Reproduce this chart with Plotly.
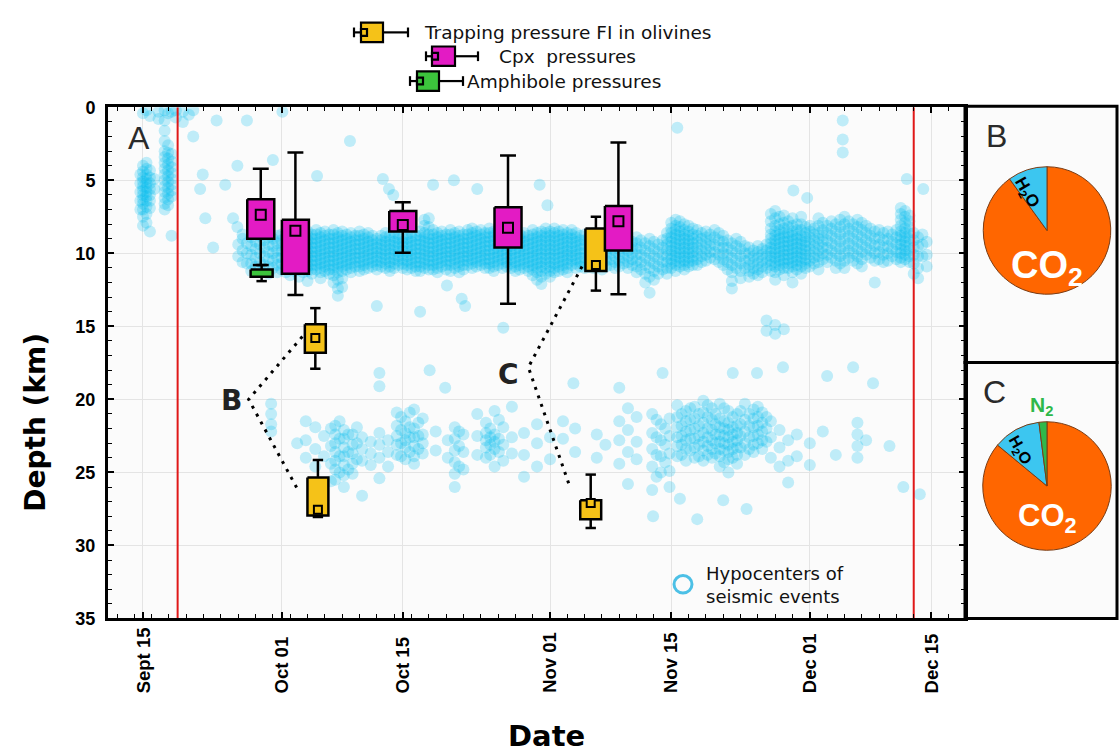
import pandas as pd
import plotly.graph_objects as go

W, H = 1119, 754
SANS = "Liberation Sans, Arial, sans-serif"
NARROW = "Liberation Sans Narrow, Arial Narrow, Liberation Sans, sans-serif"
WIDE = "DejaVu Sans, Verdana, sans-serif"

# ---------------------------------------------------------------- data ----
ORIGIN = "2011-09-15"  # day 0 of the catalogue

# hypocentres, one row per half day: "days after ORIGIN | depths (km)"
quakes_sept = [
    "-0.3|4.6 5.2 5.8 6.4 7.0",
    "0.0|0.4 4.0 4.4 4.8 5.1 5.4 5.7 6.0 6.3 6.6 7.0 7.5 8.1",
    "0.4|0.2 3.8 4.2 4.6 4.9 5.2 5.5 5.8 6.1 6.4 6.8 7.3 7.9",
    "0.8|0.6 4.3 4.8 5.2 5.6 6.0 6.4 6.9 8.5",
    "1.3|4.9 5.6",
    "1.8|0.3 0.8",
    "2.5|0.2 0.9 1.6 2.3 3.0 3.4 3.8 4.2 4.6 5.0 5.4 5.8 6.2 6.6 7.0",
    "2.9|0.4 2.6 3.1 3.5 3.9 4.3 4.7 5.1 5.5 5.9 6.3 6.7",
    "3.3|0.3 3.2 3.7 4.1 4.5 4.9 5.3 5.7 6.1 8.8",
    "3.8|0.2 0.7",
    "4.6|0.3 1.0",
    "5.3|0.5",
    "5.8|0.2 2.0",
    "6.6|5.6",
    "6.9|4.6",
    "7.2|7.6",
    "8.1|9.6",
    "8.5|0.9",
    "9.5|5.3",
    "10.4|7.6",
    "10.9|4.0 8.2",
    "11.5|8.7",
    "12.0|0.9",
    "15.0|3.6",
    "16.1|0.3",
]

quakes_band_oct = [
    "11.0|9.4 10.2",
    "11.5|9.0 9.8 10.6",
    "12.0|9.3 10.0 10.7",
    "12.5|8.9 9.5 10.1 10.7 11.2",
    "13.0|9.2 9.7 10.3 10.9",
    "13.5|8.8 9.4 10.0 10.6 11.1",
    "14.0|9.1 9.6 10.2 10.8",
    "14.5|8.9 9.4 9.9 10.4 10.9 11.4",
    "15.0|9.0 9.5 10.0 10.5 11.0",
    "15.5|8.8 9.3 9.8 10.3 10.8 11.3",
    "16.0|8.7 9.1 9.5 9.9 10.3 10.7 11.1",
    "16.5|8.9 9.3 9.7 10.1 10.5 10.9 11.3",
    "17.0|8.6 9.0 9.4 9.8 10.2 10.6 11.0 11.5",
    "17.5|8.8 9.2 9.6 10.0 10.4 10.8 11.2",
    "18.0|8.4 8.7 9.0 9.3 9.6 9.9 10.2 10.5 10.8 11.1 11.6",
    "18.5|8.6 8.9 9.2 9.5 9.8 10.1 10.4 10.7 11.0 11.3",
    "19.0|8.5 8.8 9.1 9.4 9.7 10.0 10.3 10.6 10.9 11.2 11.9",
    "19.5|8.7 9.0 9.3 9.6 9.9 10.2 10.5 10.8 11.1 11.4",
    "20.0|8.4 8.7 9.0 9.3 9.6 9.9 10.2 10.5 10.8 11.1",
    "20.5|8.6 8.9 9.2 9.5 9.8 10.1 10.4 10.7 11.0 11.3 11.7",
    "21.0|8.5 8.8 9.1 9.4 9.7 10.0 10.3 10.6 10.9 11.2",
    "21.5|8.7 9.0 9.3 9.6 9.9 10.2 10.5 10.8 11.1 11.4",
    "22.0|8.4 8.7 9.0 9.3 9.6 9.9 10.2 10.5 10.8 11.1 11.5 12.0",
    "22.5|8.6 8.9 9.2 9.5 9.8 10.1 10.4 10.7 11.0 11.3 11.8 12.4 12.9",
    "23.0|8.5 8.8 9.1 9.4 9.7 10.0 10.3 10.6 10.9 11.2 11.7 12.3",
    "23.5|8.7 9.0 9.3 9.6 9.9 10.2 10.5 10.8 11.1",
    "24.0|8.6 8.9 9.2 9.5 9.8 10.1 10.4 10.7 11.0 11.3",
    "24.5|8.8 9.1 9.4 9.7 10.0 10.3 10.6 10.9",
    "25.0|8.5 8.8 9.1 9.4 9.7 10.0 10.3 10.6 10.9 11.2",
    "25.5|8.7 9.0 9.3 9.6 9.9 10.2 10.5 10.8 11.1",
    "26.0|8.6 8.9 9.2 9.5 9.8 10.1 10.4 10.7 11.0",
    "26.5|8.8 9.1 9.4 9.7 10.0 10.3 10.6 10.9",
    "27.0|9.0 9.3 9.6 9.9 10.2 10.5 10.8 11.1",
    "27.5|8.8 9.1 9.4 9.7 10.0 10.3 10.6 10.9",
    "28.0|8.6 8.9 9.2 9.5 9.8 10.1 10.4 10.7 11.0",
    "28.5|8.8 9.1 9.4 9.7 10.0 10.3 10.6 10.9 11.2",
    "29.0|8.6 8.9 9.2 9.5 9.8 10.1 10.4 10.7 11.0",
    "29.5|8.7 9.0 9.3 9.6 9.9 10.2 10.5 10.8",
    "30.0|8.9 9.2 9.5 9.8 10.1 10.4 10.7 11.0",
    "30.5|8.7 9.0 9.3 9.6 9.9 10.2 10.5 10.8 11.1",
    "31.0|8.6 8.9 9.2 9.5 9.8 10.1 10.4 10.7 11.0",
    "31.5|8.8 9.1 9.4 9.7 10.0 10.3 10.6 10.9 11.2",
    "32.0|8.5 8.8 9.1 9.4 9.7 10.0 10.3 10.6 10.9 11.2",
    "32.5|7.7 8.1 8.6 8.9 9.2 9.5 9.8 10.1 10.4 10.7 11.0",
    "33.0|7.6 8.2 8.7 9.0 9.3 9.6 9.9 10.2 10.5 10.8 11.1",
    "33.5|8.4 8.7 9.0 9.3 9.6 9.9 10.2 10.5 10.8 11.1",
    "34.0|8.6 8.9 9.2 9.5 9.8 10.1 10.4 10.7 11.0 11.3",
    "34.5|8.5 8.8 9.1 9.4 9.7 10.0 10.3 10.6 10.9",
    "35.0|8.7 9.0 9.3 9.6 9.9 10.2 10.5 10.8 11.1",
    "35.5|8.4 8.7 9.0 9.3 9.6 9.9 10.2 10.5 10.8 11.2",
    "36.0|8.6 8.9 9.2 9.5 9.8 10.1 10.4 10.7 11.0",
    "36.5|8.5 8.8 9.1 9.4 9.7 10.0 10.3 10.6 10.9 11.3",
    "37.0|8.7 9.0 9.3 9.6 9.9 10.2 10.5 10.8 11.1",
    "37.5|8.4 8.7 9.0 9.3 9.6 9.9 10.2 10.5 10.8",
    "38.0|8.3 8.6 8.9 9.2 9.5 9.8 10.1 10.4 10.7 11.0",
    "38.5|8.5 8.8 9.1 9.4 9.7 10.0 10.3 10.6 10.9",
    "39.0|8.4 8.7 9.0 9.3 9.6 9.9 10.2 10.5 10.8",
    "39.5|8.6 8.9 9.2 9.5 9.8 10.1 10.4 10.7 11.0",
    "40.0|8.3 8.6 8.9 9.2 9.5 9.8 10.1 10.4 10.7 11.0",
    "40.5|8.5 8.8 9.1 9.4 9.7 10.0 10.3 10.6 10.9 11.2",
    "41.0|8.4 8.7 9.0 9.3 9.6 9.9 10.2 10.5 10.8",
    "41.5|8.6 8.9 9.2 9.5 9.8 10.1 10.4 10.7 11.0",
    "42.0|8.8 9.1 9.4 9.7 10.0 10.3 10.6 10.9",
    "42.5|8.6 8.9 9.2 9.5 9.8 10.1 10.4 10.7 11.0",
    "43.0|8.5 8.8 9.1 9.4 9.7 10.0 10.3 10.6 10.9 11.2",
    "43.5|8.7 9.0 9.3 9.6 9.9 10.2 10.5 10.8 11.1",
    "44.0|8.6 8.9 9.2 9.5 9.8 10.1 10.4 10.7 11.0",
    "44.5|8.8 9.1 9.4 9.7 10.0 10.3 10.6 10.9 11.2",
    "45.0|8.4 8.7 9.0 9.3 9.6 9.9 10.2 10.5 10.8 11.1 11.5",
    "45.5|8.6 8.9 9.2 9.5 9.8 10.1 10.4 10.7 11.0 11.3 11.8",
    "46.0|8.5 8.8 9.1 9.4 9.7 10.0 10.3 10.6 10.9 11.2 11.6 12.1",
    "46.5|8.3 8.6 8.9 9.2 9.5 9.8 10.1 10.4 10.7 11.0 11.4",
]

quakes_band_nov_dec = [
    "47.0|8.5 8.8 9.1 9.4 9.7 10.0 10.3 10.6 10.9 11.2 11.6",
    "47.5|8.3 8.6 8.9 9.2 9.5 9.8 10.1 10.4 10.7 11.0 11.3",
    "48.0|8.5 8.8 9.1 9.4 9.7 10.0 10.3 10.6 10.9 11.2",
    "48.5|8.4 8.7 9.0 9.3 9.6 9.9 10.2 10.5 10.8 11.1",
    "49.0|8.6 8.9 9.2 9.5 9.8 10.1 10.4 10.7 11.0 11.3",
    "49.5|8.4 8.7 9.0 9.3 9.6 9.9 10.2 10.5 10.8",
    "50.0|8.6 8.9 9.2 9.5 9.8 10.1 10.4 10.7 11.0",
    "50.5|8.8 9.1 9.4 9.7 10.0 10.3 10.6 10.9",
    "51.0|8.7 9.1 9.5 9.9 10.3 10.7 11.0",
    "51.5|8.9 9.3 9.7 10.1 10.5 10.9",
    "52.0|8.6 9.0 9.4 9.8 10.2 10.6 11.0",
    "52.5|8.8 9.2 9.6 10.0 10.4 10.8",
    "53.0|8.7 9.1 9.5 9.9 10.3 10.7 11.1",
    "53.5|8.9 9.3 9.7 10.1 10.5 10.9",
    "54.0|8.8 9.2 9.6 10.0 10.4 10.8",
    "54.5|9.0 9.4 9.8 10.2 10.6 11.0",
    "55.0|8.9 9.3 9.7 10.1 10.5 10.9",
    "55.5|9.1 9.5 9.9 10.3 10.7",
    "56.0|9.0 9.4 9.8 10.2 10.6 11.0",
    "56.5|9.2 9.6 10.0 10.4 10.8",
    "57.0|8.9 9.3 9.7 10.1 10.5 10.9 11.3",
    "57.5|9.1 9.6 10.1 10.6 11.1",
    "58.0|9.3 9.8 10.3 10.8 11.4 12.0",
    "58.5|9.0 9.5 10.0 10.5 11.0 11.6",
    "59.0|9.2 9.7 10.2 10.7 11.2 11.8",
    "59.5|9.4 9.9 10.4 10.9 11.4",
    "60.0|9.1 9.6 10.1 10.6 11.1",
    "60.5|8.6 9.0 9.4 9.8 10.2 10.6 11.0 11.4",
    "61.0|7.9 8.3 8.6 8.9 9.2 9.5 9.8 10.1 10.4 10.7 11.0",
    "61.5|7.7 8.1 8.4 8.7 9.0 9.3 9.6 9.9 10.2 10.5 10.8 11.2",
    "62.0|7.8 8.2 8.5 8.8 9.1 9.4 9.7 10.0 10.3 10.6 10.9",
    "62.5|8.0 8.4 8.7 9.0 9.3 9.6 9.9 10.2 10.5 10.8 11.1",
    "63.0|8.1 8.5 8.8 9.1 9.4 9.7 10.0 10.3 10.6 10.9",
    "63.5|8.3 8.7 9.0 9.3 9.6 9.9 10.2 10.5 10.8",
    "64.0|8.4 8.8 9.2 9.6 10.0 10.4 10.8",
    "64.5|8.6 9.0 9.4 9.8 10.2 10.6",
    "65.0|8.5 8.9 9.3 9.7 10.1 10.5",
    "65.5|8.7 9.1 9.5 9.9 10.3",
    "66.0|8.4 8.9 9.4 9.9 10.4",
    "66.5|8.6 9.1 9.6 10.1 10.6",
    "67.0|8.8 9.2 9.6 10.0 10.4 10.8",
    "67.5|9.1 9.6 10.1 10.6 11.1",
    "68.0|9.3 9.8 10.3 10.8 11.3 11.9 12.4",
    "68.5|9.0 9.5 10.0 10.5 11.0",
    "69.0|9.2 9.7 10.2 10.7 11.2 11.7",
    "69.5|9.5 10.0 10.5 11.0",
    "70.0|9.6 10.0 10.4 10.8 11.2 11.6",
    "70.5|9.8 10.2 10.6 11.0 11.4",
    "71.0|9.5 9.9 10.3 10.7 11.1 11.5",
    "71.5|9.7 10.1 10.5 10.9 11.3",
    "72.0|9.4 9.8 10.2 10.6 11.0",
    "72.5|7.3 7.8 8.3 8.7 9.0 9.3 9.6 9.9 10.2 10.5 10.8 11.2",
    "73.0|7.1 7.6 8.1 8.5 8.8 9.1 9.4 9.7 10.0 10.3 10.6 10.9 11.3 11.8",
    "73.5|7.5 8.0 8.4 8.7 9.0 9.3 9.6 9.9 10.2 10.5 10.8 11.1",
    "74.0|7.4 7.9 8.3 8.6 8.9 9.2 9.5 9.8 10.1 10.4 10.7 11.0 11.5",
    "74.5|7.8 8.2 8.6 8.9 9.2 9.5 9.8 10.1 10.4 10.7 11.0",
    "75.0|7.6 8.1 8.5 8.8 9.1 9.4 9.7 10.0 10.3 10.6 10.9 11.3 12.0",
    "75.5|8.0 8.4 8.7 9.0 9.3 9.6 9.9 10.2 10.5 10.8 11.1",
    "76.0|7.5 8.0 8.4 8.8 9.1 9.4 9.7 10.0 10.3 10.6 10.9 11.4",
    "76.5|8.2 8.6 8.9 9.2 9.5 9.8 10.1 10.4 10.7 11.0",
    "77.0|8.1 8.5 8.9 9.3 9.7 10.1 10.5 10.9",
    "77.5|8.3 8.7 9.1 9.5 9.9 10.3 10.7",
    "78.0|7.6 8.1 8.6 9.0 9.4 9.8 10.2 10.6 11.1",
    "78.5|7.9 8.4 8.8 9.2 9.6 10.0 10.4",
    "79.0|8.1 8.6 9.1 9.6 10.1 10.6",
    "79.5|7.8 8.3 8.8 9.3 9.8 10.3",
    "80.0|8.0 8.5 9.0 9.5 10.0 10.5 11.0",
    "80.5|7.7 8.2 8.7 9.2 9.7 10.2 10.7",
    "81.0|7.5 8.0 8.5 9.0 9.5 10.0 10.5 11.0",
    "81.5|7.8 8.3 8.8 9.3 9.8 10.3",
    "82.0|8.0 8.5 9.0 9.5 10.0 10.5",
    "82.5|7.7 8.2 8.7 9.2 9.7 10.2 10.7",
    "83.0|7.9 8.4 8.9 9.4 9.9 10.4 10.9",
    "83.5|8.1 8.6 9.1 9.6 10.1",
    "84.0|8.3 8.8 9.3 9.8 10.3",
    "84.5|8.5 9.0 9.5 10.0 10.5 12.0",
    "85.0|8.4 8.9 9.4 9.9 10.4",
    "85.5|8.6 9.1 9.6 10.1 10.6",
    "86.0|8.5 9.0 9.5 10.0 10.5",
    "86.5|8.7 9.2 9.7 10.2",
    "87.0|8.4 8.9 9.4 9.9 10.4",
    "87.5|6.9 7.3 7.7 8.1 8.5 8.8 9.1 9.4 9.7 10.0 10.3 10.6",
    "88.0|7.1 7.5 7.9 8.3 8.6 8.9 9.2 9.5 9.8 10.1 10.4",
    "88.5|7.4 7.8 8.2 8.6 9.0 9.4 9.8 10.2 10.6",
    "89.0|8.6 9.1 9.6 10.1 10.7 11.4",
    "89.5|8.9 9.5 10.2 11.0 11.7",
    "90.0|8.7 9.4 10.2",
    "90.5|9.2 10.1 10.9",
]

quakes_deep = [
    "14.8|20.3 21.0 21.7 22.2",
    "17.8|23.0",
    "18.8|21.5 22.8 24.0",
    "19.9|21.9 23.4 24.6",
    "20.9|22.5 23.9",
    "21.7|22.0 23.2 24.4 25.6",
    "22.2|21.8 22.4 23.0 23.6 24.2 24.8 25.5",
    "22.7|21.5 22.7 23.9 25.0",
    "23.2|22.1 22.7 23.3 23.9 24.5 25.2 26.0",
    "23.7|22.4 23.6 24.8",
    "24.2|22.4 23.1 23.7 24.4 25.1",
    "24.7|21.9 23.0 24.1",
    "25.3|22.6 23.4 24.2 26.6",
    "26.3|22.9 23.7 24.5",
    "27.3|22.3 23.1 24.0 25.4",
    "28.3|22.8 23.6 24.6",
    "29.3|20.9 21.8 22.5 23.1 23.8",
    "29.8|21.2 22.1 23.0 23.9",
    "30.3|21.5 22.3 22.8 23.3 24.1",
    "30.8|20.9 21.9 22.6 23.6",
    "31.3|20.7 22.0 22.6 23.2 23.9 24.4",
    "31.8|21.6 22.5 23.4",
    "32.3|21.3 22.4 23.0 23.7",
    "33.8|22.2 23.5",
    "35.2|22.8 24.0",
    "36.0|21.9 22.7 23.5 24.3 25.1 26.0",
    "36.5|22.2 23.2 24.6",
    "37.0|22.4 23.6 24.8",
    "38.6|21.0 22.5 23.8",
    "39.6|21.6 22.3 22.8 23.3 24.0",
    "40.1|22.0 22.6 23.1 23.8",
    "40.6|20.8 22.4 22.9 23.4 24.6",
    "41.1|21.4 22.7 23.6",
    "41.6|21.9 23.1 24.2",
    "42.6|20.5 22.6 23.7",
    "44.0|22.3 23.8 25.3",
    "45.5|21.7 23.0 24.6",
    "47.0|22.6 24.1",
    "48.5|21.5 22.7",
    "49.9|22.0 23.6",
    "52.4|22.4 24.0",
    "53.4|23.1",
    "55.0|19.2 21.5 22.8 24.4",
    "56.0|20.6 22.1 23.6 25.8",
    "57.0|21.2 22.9 24.1",
    "58.8|21.0 22.3 23.4 24.6 26.2",
    "59.3|21.4 22.6 23.8 25.3",
    "59.8|21.7 22.8 23.9 25.0",
    "60.3|22.0 23.1 24.3",
    "60.8|21.3 22.5 23.7 24.9 26.0",
    "61.7|20.4 21.2 21.9 22.6 23.2 23.9",
    "62.2|21.0 21.8 22.5 23.1 23.8",
    "62.7|20.8 21.5 22.2 22.8 23.4 24.2",
    "63.2|20.6 21.4 22.1 22.7 23.5",
    "63.7|20.5 21.3 22.0 22.7 23.3 24.0",
    "64.2|21.0 21.8 22.5 23.1 23.9",
    "64.7|20.1 20.9 21.6 22.3 22.9 23.5 24.2",
    "65.2|20.4 21.2 22.0 22.6 23.2 23.8",
    "65.7|20.6 21.4 22.1 22.8 23.4 24.0",
    "66.1|21.0 21.7 22.4 23.0 23.7",
    "66.6|20.3 21.3 21.9 22.4 22.9 23.4 23.9 24.6",
    "67.1|20.6 21.5 22.0 22.5 23.0 23.5 24.3",
    "67.6|20.8 21.6 22.1 22.6 23.1 23.6 24.1 25.0",
    "68.1|21.2 21.9 22.4 22.9 23.4 24.0",
    "68.6|21.0 21.8 22.3 22.8 23.3 23.8 24.4",
    "69.0|20.8 21.7 22.5 23.3",
    "69.5|20.3 21.4 22.2 23.0 23.8",
    "70.0|21.0 21.8 22.6 23.4",
    "70.5|20.7 21.3 21.9 22.5 23.1 23.6",
    "71.0|20.5 21.2 21.8 22.4 23.0",
    "71.5|20.9 21.6 22.2 22.8 23.4",
    "72.0|21.2 22.0 22.9",
    "72.5|21.5 22.6 24.0",
    "73.5|22.1 23.3 24.6",
    "74.5|22.8 24.2 25.7",
    "75.5|22.4 23.9",
    "77.0|23.0 24.5",
    "78.5|22.2",
    "80.0|23.8",
    "82.5|21.6 22.4 23.2 24.0",
    "83.5|22.8",
    "86.2|23.2",
    "87.8|26.0",
    "89.7|26.5",
]

quakes_scattered = [
    "20.1|4.7", "23.9|2.3", "27.0|13.6", "27.7|4.9", "28.4|5.6", "28.9|6.0",
    "32.0|14.0", "33.5|5.3", "35.1|12.2", "35.9|5.0", "36.8|13.1", "37.2|13.6",
    "38.6|5.6", "41.6|15.1", "45.8|5.3", "46.7|6.7", "58.5|12.7", "61.7|1.4",
    "72.0|14.6 15.3", "73.0|14.9 15.5", "74.0|15.2", "75.1|5.7", "76.7|6.2",
    "80.8|0.9 2.2 3.1", "88.2|4.9", "90.1|5.6",
    "27.3|18.2 19.1", "33.1|18.0", "34.9|19.2", "49.7|18.9", "60.0|18.2",
    "68.1|18.2", "70.9|18.2", "73.9|17.8", "79.0|18.4", "82.0|17.8", "84.3|18.9",
    "58.9|28.0", "64.0|28.2", "62.0|26.8", "69.7|27.5", "67.0|26.9",
]

date_ticks = ["2011-09-15", "2011-10-01", "2011-10-15", "2011-11-01",
              "2011-11-15", "2011-12-01", "2011-12-15"]
date_tick_text = ["Sept 15", "Oct 01", "Oct 15", "Nov 01", "Nov 15", "Dec 01", "Dec 15"]
depth_ticks = [0, 5, 10, 15, 20, 25, 30, 35]

red_line_dates = ["2011-09-19", "2011-12-13"]

# clinopyroxene barometry (days after ORIGIN, depths in km)
cpx_day = [13.6, 17.6, 30.0, 42.15, 54.9]
cpx_whisker_top = [4.2, 3.1, 6.5, 3.3, 2.4]
cpx_q1 = [6.3, 7.7, 7.1, 6.85, 6.75]
cpx_median = [7.35, 8.45, 8.05, 8.25, 7.8]
cpx_q3 = [9.0, 11.4, 8.5, 9.6, 9.8]
cpx_whisker_bottom = [10.8, 12.85, 9.95, 13.45, 12.8]

# fluid inclusion trapping pressures in olivine
fi_day = [19.9, 20.2, 52.3, 51.7]
fi_whisker_top = [13.75, 24.15, 7.5, 25.15]
fi_q1 = [14.85, 25.35, 8.3, 26.9]
fi_median = [15.8, 27.55, 10.8, 27.1]
fi_q3 = [16.8, 27.95, 11.2, 28.2]
fi_whisker_bottom = [17.9, 28.05, 12.55, 28.8]

# amphibole barometry
amph_day = [13.7]
amph_whisker_top = [10.8]
amph_q1 = [11.1]
amph_q3 = [11.6]
amph_whisker_bottom = [11.9]

# dotted links from the B / C labels to the inclusion populations
link_labels = ["B", "C"]
link_label_day = [10.2, 42.2]
link_label_depth = [20.1, 18.3]
link_b_day = [18.4, 12.2, 17.8]
link_b_depth = [15.7, 20.0, 26.1]
link_c_day = [50.7, 44.5, 49.3]
link_c_depth = [10.9, 17.8, 26.0]

# fluid compositions (mol %), listed clockwise from 12 o'clock
pie_b_labels = ["CO2", "H2O"]
pie_b_values = [90, 10]
pie_c_labels = ["CO2", "H2O", "N2"]
pie_c_values = [86, 12, 2]

legend_labels = ["Trapping pressure FI in olivines", "Cpx\u00a0 pressures", "Amphibole pressures"]

# --------------------------------------------------------------- style ----
CPX = "#e31bc4"
FI = "#f5c218"
AMPH = "#3cc43c"
QUAKE = "rgb(0,190,240)"
CO2 = "#ff6600"
H2O = "#3cc6f0"
N2 = "#2fb84a"
RED = "#e01818"

t0 = pd.Timestamp(ORIGIN)


def day(d):
    return t0 + pd.Timedelta(days=d)


def px(x):
    return x / W


def py(y):
    return 1 - y / H


def parse(rows):
    xs, zs = [], []
    for row in rows:
        d, depths = row.split("|")
        for z in depths.split():
            xs.append(day(float(d)))
            zs.append(float(z))
    return xs, zs


fig = go.Figure()

# seismicity
qx, qz = parse(quakes_sept + quakes_band_oct + quakes_band_nov_dec + quakes_deep + quakes_scattered)
fig.add_trace(go.Scatter(x=qx, y=qz, mode="markers",
                         marker=dict(size=12, color=QUAKE, opacity=0.24, line=dict(width=0)),
                         hoverinfo="skip"))

# red reference lines
for dt in red_line_dates:
    fig.add_trace(go.Scatter(x=[dt, dt], y=[0, 35], mode="lines",
                             line=dict(color=RED, width=2), hoverinfo="skip"))

# dotted links
for ldays, ldepth in ((link_b_day, link_b_depth), (link_c_day, link_c_depth)):
    fig.add_trace(go.Scatter(x=[day(d) for d in ldays], y=ldepth, mode="lines",
                             line=dict(color="black", width=3, dash="3px,6px"), hoverinfo="skip"))


def add_boxes(days, top, q1, q3, bottom, color, half, cap, median=None, msize=9):
    wx, wy = [], []
    for d, a, b in zip(days, top, bottom):
        wx += [day(d), day(d), None]
        wy += [a, b, None]
        for z in (a, b):
            wx += [day(d - cap), day(d + cap), None]
            wy += [z, z, None]
    fig.add_trace(go.Scatter(x=wx, y=wy, mode="lines",
                             line=dict(color="black", width=2.5), hoverinfo="skip"))
    bx, by = [], []
    for d, a, b in zip(days, q1, q3):
        bx += [day(d - half), day(d + half), day(d + half), day(d - half), day(d - half), None]
        by += [a, a, b, b, a, None]
    fig.add_trace(go.Scatter(x=bx, y=by, mode="lines", fill="toself", fillcolor=color,
                             line=dict(color="black", width=2.5), hoverinfo="skip"))
    if median is not None:
        fig.add_trace(go.Scatter(x=[day(d) for d in days], y=median, mode="markers",
                                 marker=dict(symbol="square", size=msize, color=color,
                                             line=dict(color="black", width=2)),
                                 hoverinfo="skip"))


add_boxes(amph_day, amph_whisker_top, amph_q1, amph_q3, amph_whisker_bottom, AMPH, 1.27, 0.6)
add_boxes(fi_day, fi_whisker_top, fi_q1, fi_q3, fi_whisker_bottom, FI, 1.21, 0.6, fi_median, 8)
add_boxes(cpx_day, cpx_whisker_top, cpx_q1, cpx_q3, cpx_whisker_bottom, CPX, 1.56, 0.92, cpx_median, 10)

# gas composition pies
colour_of = {"CO2": CO2, "H2O": H2O, "N2": N2}
for labels, values, (y0, y1) in ((pie_b_labels, pie_b_values, (161, 292)),
                                 (pie_c_labels, pie_c_values, (423, 555))):
    fig.add_trace(go.Pie(labels=labels, values=values, sort=False,
                         direction="clockwise", rotation=0, textinfo="none",
                         hoverinfo="skip",
                         marker=dict(colors=[colour_of[k] for k in labels],
                                     line=dict(color="#7a3c14", width=1)),
                         domain=dict(x=[px(981), px(1113)], y=[py(y1), py(y0)])))

shapes = []
annotations = []


def note(text, x, y, size, family=SANS, color="black", weight="normal", angle=0,
         xanchor="center", yanchor="middle", xref="paper", yref="paper", **kw):
    annotations.append(dict(text=text, x=x, y=y, xref=xref, yref=yref, textangle=angle,
                            xanchor=xanchor, yanchor=yanchor, showarrow=False,
                            font=dict(family=family, size=size, color=color, weight=weight), **kw))


# side panels
for y0, y1 in ((99, 362), (362, 625)):
    shapes.append(dict(type="rect", xref="paper", yref="paper", layer="below",
                       x0=px(965), x1=px(1117), y0=py(y1), y1=py(y0),
                       fillcolor="#fbfbfb", line=dict(color="black", width=3)))

# box-plot key above the chart
key_rows = [  # left cap, box left, box right, right cap, centre y, text x
    (354, 361, 383, 408, 23, 422),
    (426, 432, 455, 478, 47.5, 497),
    (410, 417, 439, 463, 73, 465),
]
for (lc, bl, br, rc, cy, tx), color, label in zip(key_rows, [FI, CPX, AMPH], legend_labels):
    line = dict(color="black", width=2.2)
    shapes += [
        dict(type="line", xref="paper", yref="paper", x0=px(lc), x1=px(lc), y0=py(cy - 5), y1=py(cy + 5), line=line),
        dict(type="line", xref="paper", yref="paper", x0=px(lc), x1=px(bl), y0=py(cy), y1=py(cy), line=line),
        dict(type="line", xref="paper", yref="paper", x0=px(br), x1=px(rc), y0=py(cy), y1=py(cy), line=line),
        dict(type="line", xref="paper", yref="paper", x0=px(rc), x1=px(rc), y0=py(cy - 5), y1=py(cy + 5), line=line),
        dict(type="rect", xref="paper", yref="paper", x0=px(bl), x1=px(br), y0=py(cy + 10), y1=py(cy - 10),
             fillcolor=color, line=line),
        dict(type="rect", xref="paper", yref="paper", x0=px(bl), x1=px(bl + 6), y0=py(cy + 3.5), y1=py(cy - 3.5),
             fillcolor=color, line=line),
    ]
    note(label, px(tx), py(cy), 18.5, family=WIDE, color="#111", xanchor="left")

# hypocentre key
shapes.append(dict(type="circle", xref="paper", yref="paper",
                   x0=px(674), x1=px(692), y0=py(599), y1=py(581),
                   line=dict(color="#4cc0e6", width=3)))
note("Hypocenters of<br>seismic events", px(704), py(591), 18, family=WIDE, color="#111",
     xanchor="left", align="left")

# date tick labels
for dt, txt in zip(date_ticks, date_tick_text):
    note(txt, dt, py(704), 18.5, family=NARROW, weight="bold", angle=-90,
         yanchor="bottom", xref="x")

# axis titles
note("Date", px(546), py(746), 29, family=WIDE, weight="bold")
note("Depth (km)", px(36), py(424), 28, family=WIDE, weight="bold", angle=-90)

# panel letters
for txt, x, y in (("A", 139, 131), ("B", 996, 129), ("C", 994, 392)):
    note(txt, px(x), py(y), 32, color="#2a2a2a")

# B / C link labels
for txt, d, z in zip(link_labels, link_label_day, link_label_depth):
    note(txt, day(d), z, 28, family=WIDE, weight="bold", color="#222", xref="x", yref="y")

# pie labels
note("CO<sub>2</sub>", px(1047), py(265), 38, weight="bold", color="white")
note("H<sub>2</sub>O", px(1026), py(188), 17, weight="bold", angle=60)
note("CO<sub>2</sub>", px(1047), py(522), 31, weight="bold", color="white")
note("H<sub>2</sub>O", px(1020), py(452), 16, weight="bold", angle=60)
note("N<sub>2</sub>", px(1041), py(407), 21, weight="bold", color=N2)

fig.update_layout(
    width=W, height=H, autosize=False,
    margin=dict(l=0, r=0, t=0, b=0),
    paper_bgcolor="white", plot_bgcolor="#fbfbfb",
    showlegend=False,
    shapes=shapes, annotations=annotations,
    xaxis=dict(
        type="date", domain=[px(108), px(965)],
        range=[day(-4.04), day(94.92)],
        tickmode="array", tickvals=date_ticks, showticklabels=False,
        ticks="inside", ticklen=6, tickwidth=1.5, tickcolor="black",
        showgrid=True, gridcolor="#e4e4e4", gridwidth=1,
        showline=True, linecolor="black", linewidth=3, mirror="allticks",
        zeroline=False,
        minor=dict(ticks="inside", ticklen=4, tickwidth=1.2, tickcolor="black",
                   dtick=2 * 86400000, tick0="2011-09-16", showgrid=False),
    ),
    yaxis=dict(
        domain=[py(625), py(100)], range=[35, 0],
        tickmode="array", tickvals=depth_ticks,
        ticks="inside", ticklen=6, tickwidth=1.5, tickcolor="black",
        tickfont=dict(family=NARROW, size=18, weight="bold", color="black"),
        ticklabelstandoff=6,
        showgrid=True, gridcolor="#e4e4e4", gridwidth=1,
        showline=True, linecolor="black", linewidth=3, mirror="allticks",
        zeroline=False,
        minor=dict(ticks="inside", ticklen=4, tickwidth=1.2, tickcolor="black",
                   dtick=1, tick0=0, showgrid=False),
    ),
)

fig.write_html("out.html")
